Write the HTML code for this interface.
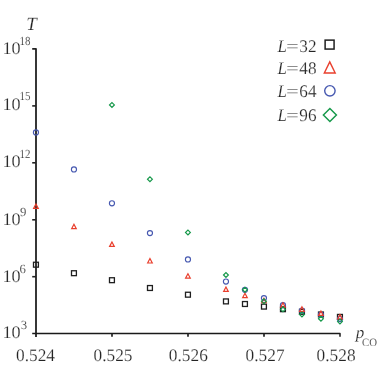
<!DOCTYPE html>
<html><head><meta charset="utf-8"><title>chart</title>
<style>
html,body{margin:0;padding:0;background:#fff;}
body{width:382px;height:382px;overflow:hidden;}
svg{display:block;}
text{font-family:"Liberation Serif",serif;fill:#242424;text-rendering:geometricPrecision;stroke:#fff;stroke-width:0.18px;}
.i{font-style:italic;}
</style></head><body>
<svg width="382" height="382" viewBox="0 0 382 382">
<rect width="382" height="382" fill="#fff"/>

<g stroke="#222" stroke-width="1.8" fill="none" stroke-linecap="butt">
<path d="M32.2 48.95 H36 V336.9" stroke-linejoin="round"/>
<path d="M32.2 333.5 H340 V336.8" stroke-width="1.5" stroke="#1a1a1a" stroke-linejoin="round"/>
<path d="M32.2 105.9 H36" stroke-width="1.6"/>
<path d="M32.2 162.8 H36" stroke-width="1.6"/>
<path d="M32.2 219.8 H36" stroke-width="1.6"/>
<path d="M32.2 276.7 H36" stroke-width="1.6"/>
<path d="M112 333.5 V336.8" stroke-width="1.7"/>
<path d="M188 333.5 V336.8" stroke-width="1.7"/>
<path d="M264 333.5 V336.8" stroke-width="1.7"/>
</g>
<rect x="33.50" y="262.25" width="4.9" height="4.9" fill="none" stroke="#1f1f1f" stroke-width="1.3"/>
<rect x="71.50" y="270.75" width="4.9" height="4.9" fill="none" stroke="#1f1f1f" stroke-width="1.3"/>
<rect x="109.50" y="277.75" width="4.9" height="4.9" fill="none" stroke="#1f1f1f" stroke-width="1.3"/>
<rect x="147.50" y="285.55" width="4.9" height="4.9" fill="none" stroke="#1f1f1f" stroke-width="1.3"/>
<rect x="185.50" y="292.25" width="4.9" height="4.9" fill="none" stroke="#1f1f1f" stroke-width="1.3"/>
<rect x="223.50" y="298.95" width="4.9" height="4.9" fill="none" stroke="#1f1f1f" stroke-width="1.3"/>
<rect x="242.50" y="301.55" width="4.9" height="4.9" fill="none" stroke="#1f1f1f" stroke-width="1.3"/>
<rect x="261.50" y="304.15" width="4.9" height="4.9" fill="none" stroke="#1f1f1f" stroke-width="1.3"/>
<rect x="280.50" y="306.75" width="4.9" height="4.9" fill="none" stroke="#1f1f1f" stroke-width="1.3"/>
<rect x="299.50" y="309.35" width="4.9" height="4.9" fill="none" stroke="#1f1f1f" stroke-width="1.3"/>
<rect x="318.50" y="312.05" width="4.9" height="4.9" fill="none" stroke="#1f1f1f" stroke-width="1.3"/>
<rect x="337.50" y="314.45" width="4.9" height="4.9" fill="none" stroke="#1f1f1f" stroke-width="1.3"/>
<circle cx="35.95" cy="132.40" r="2.55" fill="none" stroke="#4658b0" stroke-width="1.15"/>
<circle cx="73.95" cy="169.40" r="2.55" fill="none" stroke="#4658b0" stroke-width="1.15"/>
<circle cx="111.95" cy="203.30" r="2.55" fill="none" stroke="#4658b0" stroke-width="1.15"/>
<circle cx="149.95" cy="233.10" r="2.55" fill="none" stroke="#4658b0" stroke-width="1.15"/>
<circle cx="187.95" cy="259.40" r="2.55" fill="none" stroke="#4658b0" stroke-width="1.15"/>
<circle cx="225.95" cy="281.50" r="2.55" fill="none" stroke="#4658b0" stroke-width="1.15"/>
<circle cx="244.95" cy="289.80" r="2.55" fill="none" stroke="#4658b0" stroke-width="1.15"/>
<circle cx="263.95" cy="298.10" r="2.55" fill="none" stroke="#4658b0" stroke-width="1.15"/>
<circle cx="282.95" cy="305.20" r="2.55" fill="none" stroke="#4658b0" stroke-width="1.15"/>
<circle cx="301.95" cy="310.50" r="2.55" fill="none" stroke="#4658b0" stroke-width="1.15"/>
<circle cx="320.95" cy="314.60" r="2.55" fill="none" stroke="#4658b0" stroke-width="1.15"/>
<circle cx="339.95" cy="319.00" r="2.55" fill="none" stroke="#4658b0" stroke-width="1.15"/>
<path d="M33.63 208.39 L35.95 203.99 L38.27 208.39 Z" fill="none" stroke="#e93f2d" stroke-width="1.2" stroke-linejoin="miter"/>
<path d="M71.63 228.69 L73.95 224.29 L76.27 228.69 Z" fill="none" stroke="#e93f2d" stroke-width="1.2" stroke-linejoin="miter"/>
<path d="M109.63 246.39 L111.95 241.99 L114.27 246.39 Z" fill="none" stroke="#e93f2d" stroke-width="1.2" stroke-linejoin="miter"/>
<path d="M147.63 262.99 L149.95 258.59 L152.27 262.99 Z" fill="none" stroke="#e93f2d" stroke-width="1.2" stroke-linejoin="miter"/>
<path d="M185.63 278.09 L187.95 273.69 L190.27 278.09 Z" fill="none" stroke="#e93f2d" stroke-width="1.2" stroke-linejoin="miter"/>
<path d="M223.63 291.44 L225.95 287.04 L228.27 291.44 Z" fill="none" stroke="#e93f2d" stroke-width="1.2" stroke-linejoin="miter"/>
<path d="M242.63 297.69 L244.95 293.29 L247.27 297.69 Z" fill="none" stroke="#e93f2d" stroke-width="1.2" stroke-linejoin="miter"/>
<path d="M261.63 302.69 L263.95 298.29 L266.27 302.69 Z" fill="none" stroke="#e93f2d" stroke-width="1.2" stroke-linejoin="miter"/>
<path d="M280.63 307.19 L282.95 302.79 L285.27 307.19 Z" fill="none" stroke="#e93f2d" stroke-width="1.2" stroke-linejoin="miter"/>
<path d="M299.63 311.29 L301.95 306.89 L304.27 311.29 Z" fill="none" stroke="#e93f2d" stroke-width="1.2" stroke-linejoin="miter"/>
<path d="M318.63 315.39 L320.95 310.99 L323.27 315.39 Z" fill="none" stroke="#e93f2d" stroke-width="1.2" stroke-linejoin="miter"/>
<path d="M337.63 318.99 L339.95 314.59 L342.27 318.99 Z" fill="none" stroke="#e93f2d" stroke-width="1.2" stroke-linejoin="miter"/>
<path d="M109.53 104.90 L111.95 102.48 L114.37 104.90 L111.95 107.32 Z" fill="none" stroke="#17994b" stroke-width="1.2" stroke-linejoin="miter"/>
<path d="M147.53 179.20 L149.95 176.78 L152.37 179.20 L149.95 181.62 Z" fill="none" stroke="#17994b" stroke-width="1.2" stroke-linejoin="miter"/>
<path d="M185.53 232.40 L187.95 229.98 L190.37 232.40 L187.95 234.82 Z" fill="none" stroke="#17994b" stroke-width="1.2" stroke-linejoin="miter"/>
<path d="M223.53 275.00 L225.95 272.58 L228.37 275.00 L225.95 277.42 Z" fill="none" stroke="#17994b" stroke-width="1.2" stroke-linejoin="miter"/>
<path d="M242.53 289.70 L244.95 287.28 L247.37 289.70 L244.95 292.12 Z" fill="none" stroke="#17994b" stroke-width="1.2" stroke-linejoin="miter"/>
<path d="M261.53 301.20 L263.95 298.78 L266.37 301.20 L263.95 303.62 Z" fill="none" stroke="#17994b" stroke-width="1.2" stroke-linejoin="miter"/>
<path d="M280.53 309.30 L282.95 306.88 L285.37 309.30 L282.95 311.72 Z" fill="none" stroke="#17994b" stroke-width="1.2" stroke-linejoin="miter"/>
<path d="M299.53 314.50 L301.95 312.08 L304.37 314.50 L301.95 316.92 Z" fill="none" stroke="#17994b" stroke-width="1.2" stroke-linejoin="miter"/>
<path d="M318.53 318.70 L320.95 316.28 L323.37 318.70 L320.95 321.12 Z" fill="none" stroke="#17994b" stroke-width="1.2" stroke-linejoin="miter"/>
<path d="M337.53 321.60 L339.95 319.18 L342.37 321.60 L339.95 324.02 Z" fill="none" stroke="#17994b" stroke-width="1.2" stroke-linejoin="miter"/>
<rect x="325.12" y="40.12" width="8.95" height="8.95" fill="none" stroke="#1f1f1f" stroke-width="1.5"/>
<path d="M324.30 72.94 L329.75 61.94 L335.20 72.94 Z" fill="none" stroke="#e93f2d" stroke-width="1.4" stroke-linejoin="miter"/>
<circle cx="329.90" cy="90.85" r="5.2" fill="none" stroke="#4658b0" stroke-width="1.4"/>
<path d="M323.40 115.00 L329.90 108.50 L336.40 115.00 L329.90 121.50 Z" fill="none" stroke="#17994b" stroke-width="1.5" stroke-linejoin="miter"/>
<defs><mask id="m"><rect width="382" height="382" fill="#fff"/></mask></defs><g mask="url(#m)">
<text x="277.5" y="51.7" font-size="17.7" class="i" textLength="9.4" lengthAdjust="spacingAndGlyphs">L</text>
<text x="285.9" y="51.7" font-size="17.7" textLength="12.8" lengthAdjust="spacingAndGlyphs">=</text>
<text x="299.3" y="51.7" font-size="17.7" textLength="17.2" lengthAdjust="spacingAndGlyphs">32</text>
<text x="277.5" y="74.1" font-size="17.7" class="i" textLength="9.4" lengthAdjust="spacingAndGlyphs">L</text>
<text x="285.9" y="74.1" font-size="17.7" textLength="12.8" lengthAdjust="spacingAndGlyphs">=</text>
<text x="299.3" y="74.1" font-size="17.7" textLength="17.2" lengthAdjust="spacingAndGlyphs">48</text>
<text x="277.5" y="96.9" font-size="17.7" class="i" textLength="9.4" lengthAdjust="spacingAndGlyphs">L</text>
<text x="285.9" y="96.9" font-size="17.7" textLength="12.8" lengthAdjust="spacingAndGlyphs">=</text>
<text x="299.3" y="96.9" font-size="17.7" textLength="17.2" lengthAdjust="spacingAndGlyphs">64</text>
<text x="277.5" y="120.7" font-size="17.7" class="i" textLength="9.4" lengthAdjust="spacingAndGlyphs">L</text>
<text x="285.9" y="120.7" font-size="17.7" textLength="12.8" lengthAdjust="spacingAndGlyphs">=</text>
<text x="299.3" y="120.7" font-size="17.7" textLength="17.2" lengthAdjust="spacingAndGlyphs">96</text>
<text x="26.2" y="29.95" font-size="18.8" class="i">T</text>
<text x="2.4" y="54.2" font-size="17.7" textLength="18.2" lengthAdjust="spacingAndGlyphs">10</text>
<text x="19.6" y="45.2" font-size="12.4" textLength="11.0" lengthAdjust="spacingAndGlyphs">18</text>
<text x="2.4" y="109.6" font-size="17.7" textLength="18.2" lengthAdjust="spacingAndGlyphs">10</text>
<text x="19.6" y="100.0" font-size="12.4" textLength="11.0" lengthAdjust="spacingAndGlyphs">15</text>
<text x="2.4" y="167.1" font-size="17.7" textLength="18.2" lengthAdjust="spacingAndGlyphs">10</text>
<text x="19.6" y="157.9" font-size="12.4" textLength="11.0" lengthAdjust="spacingAndGlyphs">12</text>
<text x="2.4" y="224.6" font-size="17.7" textLength="18.2" lengthAdjust="spacingAndGlyphs">10</text>
<text x="20.0" y="215.6" font-size="12.4" textLength="6.4" lengthAdjust="spacingAndGlyphs">9</text>
<text x="2.4" y="281.5" font-size="17.7" textLength="18.2" lengthAdjust="spacingAndGlyphs">10</text>
<text x="19.5" y="272.5" font-size="12.4" textLength="6.4" lengthAdjust="spacingAndGlyphs">6</text>
<text x="2.4" y="337.8" font-size="17.7" textLength="18.2" lengthAdjust="spacingAndGlyphs">10</text>
<text x="20.7" y="328.6" font-size="12.4" textLength="6.4" lengthAdjust="spacingAndGlyphs">3</text>
<text x="16.0" y="360.6" font-size="17.7" textLength="39" lengthAdjust="spacingAndGlyphs">0.524</text>
<text x="93.5" y="360.6" font-size="17.7" textLength="39" lengthAdjust="spacingAndGlyphs">0.525</text>
<text x="168.8" y="360.6" font-size="17.7" textLength="39" lengthAdjust="spacingAndGlyphs">0.526</text>
<text x="245.6" y="360.6" font-size="17.7" textLength="39" lengthAdjust="spacingAndGlyphs">0.527</text>
<text x="316.6" y="360.6" font-size="17.7" textLength="39" lengthAdjust="spacingAndGlyphs">0.528</text>
<text x="355.8" y="337.9" font-size="17" class="i">p</text>
<text x="362" y="345.5" font-size="11.2" textLength="15" lengthAdjust="spacingAndGlyphs">CO</text>
</g>
</svg></body></html>
